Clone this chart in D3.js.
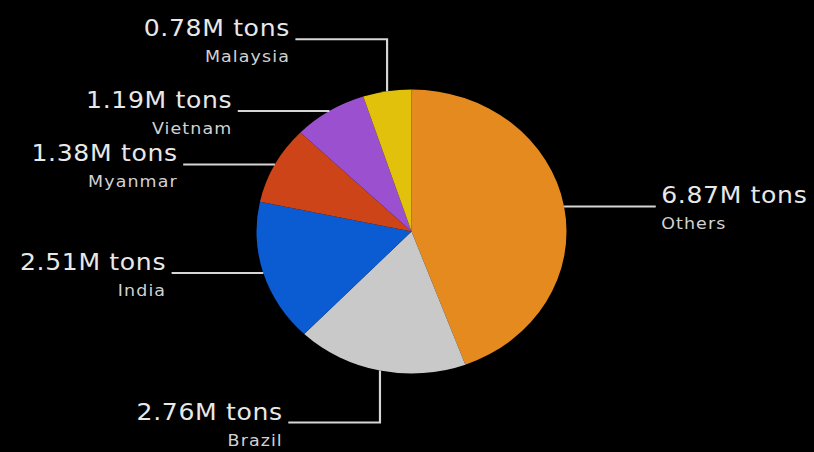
<!DOCTYPE html>
<html lang="en">
<head>
    <meta charset="UTF-8">
    <title>Production share</title>
    <style>
        html, body { margin: 0; padding: 0; background: #000; }
        svg { display: block; }
    </style>
</head>
<body>
    <svg width="814" height="452"></svg>

    <script src="https://d3js.org/d3.v7.min.js"></script>
    <script>
        // values (million tons)
        const countries = ["Others", "Brazil", "India", "Myanmar", "Vietnam", "Malaysia"];
        const tons = [6.87, 2.76, 2.51, 1.38, 1.19, 0.78];

        const width = 814, height = 452;
        const sx = 155 / 142;          // reference picture is a bit wider than tall
        const r = 142;
        const cx = 411.5 / sx, cy = 231.5;

        const color = d3.scaleOrdinal()
            .domain(countries)
            .range(["#e58a1f", "#c9c9c9", "#0b5cd2", "#cd4418", "#9b50cf", "#e2c10c"]);

        const svg = d3.select("svg");
        svg.append("rect").attr("width", width).attr("height", height).attr("fill", "#000");

        const g = svg.append("g").attr("transform", "scale(" + sx + ",1)");
        const pieG = g.append("g").attr("transform", "translate(" + cx + "," + cy + ")");

        const data = countries.map(function(c, i) { return { name: c, value: tons[i] }; });

        const pie = d3.pie()
            .value(function(d) { return d.value; })
            .sort(function(a, b) { return b.value - a.value; });
        const arc = d3.arc().innerRadius(0).outerRadius(r);
        const arcs = pie(data);

        pieG.selectAll("path")
            .data(arcs)
            .enter().append("path")
            .attr("d", arc)
            .attr("fill", function(d) { return color(d.data.name); });

        // leader lines + labels
        const hLen = 84, vLen = 52, gap = 5;
        const labels = g.append("g");

        arcs.forEach(function(d) {
            let a = (d.startAngle + d.endAngle) / 2;
            let px = cx + r * Math.sin(a);
            let py = cy - r * Math.cos(a);
            let side = Math.sin(a) < 0 ? -1 : 1;
            let pts = [[px, py]];
            let ly = py;
            if (Math.abs(Math.sin(a)) < 0.4) {
                ly = py + (Math.cos(a) > 0 ? -vLen : vLen);
                pts.push([px, ly]);
            }
            let ex = px + side * hLen;
            pts.push([ex, ly]);

            labels.append("path")
                .attr("d", d3.line()(pts))
                .attr("fill", "none")
                .attr("stroke", "#d6d6d6")
                .attr("stroke-width", 2);

            let tx = ex + side * gap;
            let anchor = side < 0 ? "end" : "start";

            labels.append("text")
                .attr("x", tx)
                .attr("y", ly - 3)
                .attr("text-anchor", anchor)
                .attr("font-family", "DejaVu Sans, sans-serif")
                .attr("font-size", 23)
                .attr("letter-spacing", 0.6)
                .attr("fill", "#e8e8e8")
                .text(d3.format(".2f")(d.data.value) + "M tons");

            labels.append("text")
                .attr("x", tx)
                .attr("y", ly + 23)
                .attr("text-anchor", anchor)
                .attr("font-family", "DejaVu Sans, sans-serif")
                .attr("font-size", 16)
                .attr("letter-spacing", 1)
                .attr("fill", "#d2d2d2")
                .text(d.data.name);
        });
    </script>
</body>
</html>
